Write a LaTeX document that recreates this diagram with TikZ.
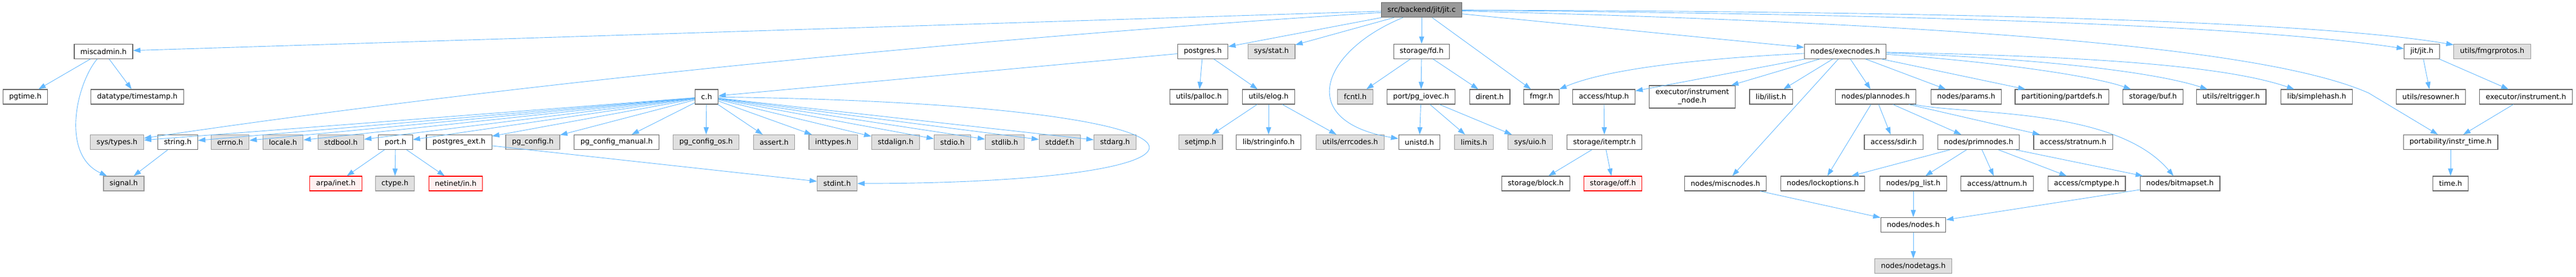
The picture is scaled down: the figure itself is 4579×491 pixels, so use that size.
\documentclass[tikz,border=0pt]{standalone}
\usepackage{fontspec}
\setmainfont{DejaVu Sans}
\usetikzlibrary{arrows.meta}
\definecolor{depblue}{HTML}{63B8FF}
\definecolor{sysfill}{HTML}{E0E0E0}
\definecolor{rootfill}{HTML}{999999}
\definecolor{missfill}{HTML}{FFF0F0}

\begin{document}
\begin{tikzpicture}[x=1pt,y=-1pt,->,>={Triangle[length=13pt,width=9pt]},
    file node/.style={rectangle,draw=black!60,fill=white,line width=1.1pt,minimum height=26pt,inner xsep=11pt,inner ysep=1pt,font=\fontsize{12.8}{15}\selectfont},
    sys node/.style={file node,draw=black!40,fill=sysfill},
    miss node/.style={file node,draw=red,fill=missfill},
    root node/.style={file node,fill=rootfill},
    dep/.style={depblue,line width=0.9pt}]

    \useasboundingbox (0,0) rectangle (4579,491);

    % row 1 and 2
    \node[root node] (jitc) at (2527,17.7) {src/backend/jit/jit.c};
    \node[file node] (miscadmin) at (184,91.3) {miscadmin.h};
    \node[file node] (postgres) at (2138,91.3) {postgres.h};
    \node[sys node] (sysstat) at (2260,91.3) {sys/stat.h};
    \node[file node] (fd) at (2527,91.3) {storage/fd.h};
    \node[file node] (execnodes) at (3280,91.3) {nodes/execnodes.h};
    \node[file node] (jith) at (4305,91.3) {jit/jit.h};
    \node[sys node] (fmgrprotos) at (4430,91.3) {utils/fmgrprotos.h};

    % row 3
    \node[file node] (pgtime) at (45,172) {pgtime.h};
    \node[file node] (timestamp) at (244,172) {datatype/timestamp.h};
    \node[file node] (ch) at (1256,172) {c.h};
    \node[file node] (palloc) at (2131,172) {utils/palloc.h};
    \node[file node] (elog) at (2255,172) {utils/elog.h};
    \node[sys node] (fcntl) at (2409,172) {fcntl.h};
    \node[file node] (pgiovec) at (2526,172) {port/pg\_iovec.h};
    \node[file node] (dirent) at (2648,172) {dirent.h};
    \node[file node] (fmgr) at (2740,172) {fmgr.h};
    \node[file node] (htup) at (2851,172) {access/htup.h};
    \node[file node,minimum height=40pt,align=center] (instrnode) at (3008,172) {executor/instrument\\\_node.h};
    \node[file node] (ilist) at (3148,172) {lib/ilist.h};
    \node[file node] (plannodes) at (3334,172) {nodes/plannodes.h};
    \node[file node] (params) at (3495,172) {nodes/params.h};
    \node[file node] (partdefs) at (3665,172) {partitioning/partdefs.h};
    \node[file node] (buf) at (3827,172) {storage/buf.h};
    \node[file node] (reltrigger) at (3966,172) {utils/reltrigger.h};
    \node[file node] (simplehash) at (4118,172) {lib/simplehash.h};
    \node[file node] (resowner) at (4321,172) {utils/resowner.h};
    \node[file node] (instrument) at (4490,172) {executor/instrument.h};

    % row 4
    \node[sys node] (systypes) at (208,252.5) {sys/types.h};
    \node[file node] (string) at (316,252.5) {string.h};
    \node[sys node] (errno) at (409,252.5) {errno.h};
    \node[sys node] (locale) at (503,252.5) {locale.h};
    \node[sys node] (stdbool) at (606,252.5) {stdbool.h};
    \node[file node] (port) at (703,252.5) {port.h};
    \node[file node] (pgext) at (816,252.5) {postgres\_ext.h};
    \node[sys node] (pgconfig) at (947,252.5) {pg\_config.h};
    \node[file node] (pgmanual) at (1096,252.5) {pg\_config\_manual.h};
    \node[sys node] (pgconfigos) at (1255,252.5) {pg\_config\_os.h};
    \node[sys node] (assert) at (1376,252.5) {assert.h};
    \node[sys node] (inttypes) at (1481,252.5) {inttypes.h};
    \node[sys node] (stdalign) at (1592,252.5) {stdalign.h};
    \node[sys node] (stdio) at (1693,252.5) {stdio.h};
    \node[sys node] (stdlib) at (1786,252.5) {stdlib.h};
    \node[sys node] (stddef) at (1884,252.5) {stddef.h};
    \node[sys node] (stdarg) at (1982,252.5) {stdarg.h};
    \node[sys node] (setjmp) at (2134,252.5) {setjmp.h};
    \node[file node] (stringinfo) at (2255,252.5) {lib/stringinfo.h};
    \node[sys node] (errcodes) at (2400,252.5) {utils/errcodes.h};
    \node[file node] (unistd) at (2523,252.5) {unistd.h};
    \node[sys node] (limits) at (2620,252.5) {limits.h};
    \node[sys node] (sysuio) at (2720,252.5) {sys/uio.h};
    \node[file node] (itemptr) at (2852,252.5) {storage/itemptr.h};
    \node[file node] (sdir) at (3366,252.5) {access/sdir.h};
    \node[file node] (primnodes) at (3517,252.5) {nodes/primnodes.h};
    \node[file node] (stratnum) at (3685,252.5) {access/stratnum.h};
    \node[file node] (instrtime) at (4356,252.5) {portability/instr\_time.h};

    % row 5 to 7
    \node[sys node] (signal) at (220,326) {signal.h};
    \node[miss node] (arpainet) at (597,326) {arpa/inet.h};
    \node[sys node] (ctype) at (702,326) {ctype.h};
    \node[miss node] (netinetin) at (810,326) {netinet/in.h};
    \node[sys node] (stdint) at (1488,326) {stdint.h};
    \node[file node] (block) at (2730,326) {storage/block.h};
    \node[miss node] (off) at (2867,326) {storage/off.h};
    \node[file node] (miscnodes) at (3067,326) {nodes/miscnodes.h};
    \node[file node] (lockoptions) at (3240,326) {nodes/lockoptions.h};
    \node[file node] (pglist) at (3401,326) {nodes/pg\_list.h};
    \node[file node] (attnum) at (3550,326) {access/attnum.h};
    \node[file node] (cmptype) at (3709,326) {access/cmptype.h};
    \node[file node] (bitmapset) at (3875,326) {nodes/bitmapset.h};
    \node[file node] (time) at (4356,326) {time.h};
    \node[file node] (nodes) at (3401,399.3) {nodes/nodes.h};
    \node[sys node] (nodetags) at (3401,472.7) {nodes/nodetags.h};

    \foreach \dst in {miscadmin,postgres,sysstat,fd,fmgr,execnodes}
        \path[dep] (jitc) edge (\dst);
    \draw[dep] (jitc) .. controls (1700,70) and (900,150) .. (systypes);
    \draw[dep] (jitc) .. controls (2350,90) and (2300,215) .. (unistd);
    \draw[dep] (jitc) .. controls (3400,25) and (4000,45) .. (jith);
    \draw[dep] (jitc) .. controls (3400,20) and (4100,35) .. (fmgrprotos);
    \draw[dep] (jitc) .. controls (3600,45) and (4050,95) .. (4210,165) -- (instrtime);

    \foreach \dst in {pgtime,timestamp}
        \path[dep] (miscadmin) edge (\dst);
    \draw[dep] (miscadmin) .. controls (135,150) and (108,275) .. (signal);

    \foreach \dst in {ch,palloc,elog}
        \path[dep] (postgres) edge (\dst);
    \foreach \dst in {systypes,string,errno,locale,stdbool,port,pgext,pgconfig,pgmanual,pgconfigos,assert,inttypes,stdalign,stdio,stdlib,stddef,stdarg}
        \path[dep] (ch) edge (\dst);
    \draw[dep] (ch) .. controls (2250,185) and (2250,325) .. (stdint);

    \path[dep]
        (string) edge (signal)
        (port) edge (arpainet)
        (port) edge (ctype)
        (port) edge (netinetin)
        (pgext) edge (stdint)
        (elog) edge (setjmp)
        (elog) edge (stringinfo)
        (elog) edge (errcodes)
        (fd) edge (fcntl)
        (fd) edge (pgiovec)
        (fd) edge (dirent)
        (pgiovec) edge (unistd)
        (pgiovec) edge (limits)
        (pgiovec) edge (sysuio)
        (htup) edge (itemptr)
        (itemptr) edge (block)
        (itemptr) edge (off)
    ;

    \foreach \dst in {htup,instrnode,ilist,miscnodes,plannodes,params,partdefs}
        \path[dep] (execnodes) edge (\dst);
    \draw[dep] (execnodes) .. controls (3000,105) and (2850,125) .. (fmgr);
    \draw[dep] (execnodes) .. controls (3550,110) and (3720,135) .. (buf);
    \draw[dep] (execnodes) .. controls (3600,103) and (3820,125) .. (reltrigger);
    \draw[dep] (execnodes) .. controls (3700,100) and (3950,115) .. (simplehash);
    \foreach \dst in {sdir,lockoptions,primnodes,stratnum}
        \path[dep] (plannodes) edge (\dst);
    \draw[dep] (plannodes) .. controls (3500,205) and (3760,190) .. (bitmapset);
    \foreach \dst in {lockoptions,pglist,attnum,cmptype,bitmapset}
        \path[dep] (primnodes) edge (\dst);
    \foreach \src in {miscnodes,pglist,bitmapset}
        \path[dep] (\src) edge (nodes);

    \path[dep]
        (nodes) edge (nodetags)
        (jith) edge (resowner)
        (jith) edge (instrument)
        (instrument) edge (instrtime)
        (instrtime) edge (time)
    ;

\end{tikzpicture}
\end{document}
